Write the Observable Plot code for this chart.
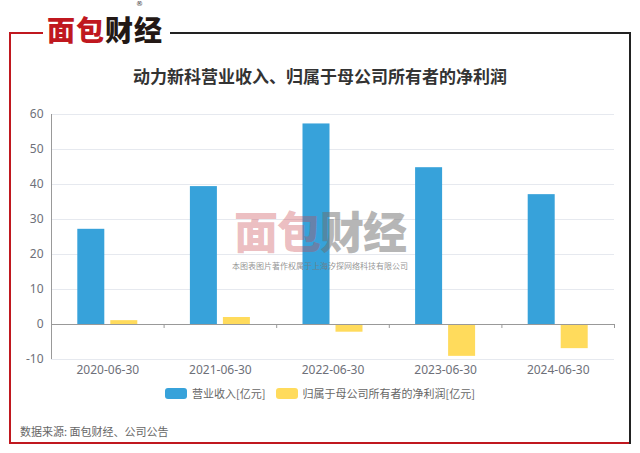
<!DOCTYPE html>
<html><head><meta charset="utf-8">
<script src="https://cdn.jsdelivr.net/npm/d3@7"></script>
<script src="https://cdn.jsdelivr.net/npm/@observablehq/plot@0.6"></script>
<style>
body{margin:0;background:#fff;}
#wrap{position:relative;width:640px;height:453px;overflow:hidden;font-family:"Noto Sans CJK SC","Noto Sans",sans-serif;background:#fff;}
.abs{position:absolute;}
#chart{position:absolute;left:0;top:100px;}
#legend{position:absolute;left:0;width:640px;top:385px;display:flex;justify-content:center;align-items:center;font-size:11px;color:#666;}
.sw{display:inline-block;width:22px;height:11px;border-radius:3px;margin-right:5px;}
.li{display:flex;align-items:center;margin:0 5px;}
</style></head><body>
<div id="wrap">
  <div class="abs" style="left:9px;top:32px;width:2px;height:412px;background:#c0181f;"></div>
  <div class="abs" style="left:9px;top:442px;width:622px;height:2px;background:#c0181f;"></div>
  <div class="abs" style="left:629px;top:32px;width:2px;height:412px;background:#222;"></div>
  <div class="abs" style="left:9px;top:32px;width:34px;height:2px;background:#c0181f;"></div>
  <div class="abs" style="left:170px;top:32px;width:461px;height:2px;background:#222;"></div>
  <div id="logo" class="abs" style="left:47px;top:15px;font-size:28px;font-weight:900;letter-spacing:1px;line-height:28px;height:28px;"></div>
  <div id="reg" class="abs" style="left:136px;top:1px;font-family:'DejaVu Sans',sans-serif;font-size:7px;line-height:7px;height:7px;color:#333;">®</div>
  <div id="title" class="abs" style="left:0;width:640px;top:63px;text-align:center;font-size:17px;font-weight:bold;color:#333;"></div>
  <div id="chart"></div>
  <div id="legend"></div>
  <div id="source" class="abs" style="left:20px;top:423px;font-size:11px;color:#666;"></div>
  <div id="wm" class="abs" style="left:230px;top:205px;width:180px;text-align:center;pointer-events:none;"></div>
</div>
<script>
const dates = ["2020-06-30", "2021-06-30", "2022-06-30", "2023-06-30", "2024-06-30"];
const revenue = [27.2, 39.4, 57.3, 44.8, 37.1];
const netProfit = [1.1, 2.0, -2.2, -9.1, -6.9];
const seriesNames = ["营业收入[亿元]", "归属于母公司所有者的净利润[亿元]"];
const yTicks = [-10, 0, 10, 20, 30, 40, 50, 60];
const colors = ["#37A2DA", "#FFDB5C"];
const titleText = "动力新科营业收入、归属于母公司所有者的净利润";
const sourceText = "数据来源: 面包财经、公司公告";
const logoRed = "面包";
const logoBlack = "财经";
const watermarkNote = "本图表图片著作权属于上海汐探网络科技有限公司";

document.getElementById("title").textContent = titleText;
document.getElementById("source").textContent = sourceText;
document.getElementById("logo").innerHTML =
  `<span style="color:#c0181f">${logoRed}</span><span style="color:#231815">${logoBlack}</span>`;
document.getElementById("wm").innerHTML =
  `<div style="font-size:44px;font-weight:900;line-height:50px;height:50px;letter-spacing:-1px;"><span style="color:rgba(200,70,80,0.36)">${logoRed}</span><span style="color:rgba(110,110,110,0.5)">${logoBlack}</span></div><div style="font-size:8px;line-height:10px;color:rgba(120,120,120,0.8);white-space:nowrap;margin-top:6px;">${watermarkNote}</div>`;

const legend = document.getElementById("legend");
seriesNames.forEach((n, i) => {
  const it = document.createElement("div");
  it.className = "li";
  it.innerHTML = `<span class="sw" style="background:${colors[i]}"></span><span>${n}</span>`;
  legend.appendChild(it);
});

const W = 640, H = 290, ML = 51, MR = 26, MT = 14, MB = 31;
const step = (W - ML - MR) / dates.length;
const barW = 27, gap = 6;
const rows = dates.map((d, i) => ({date: d, rev: revenue[i], np: netProfit[i]}));

const chart = Plot.plot({
  width: W, height: H,
  marginLeft: ML, marginRight: MR, marginTop: MT, marginBottom: MB,
  style: {fontFamily: "'Noto Sans', sans-serif", fontSize: "12px", background: "transparent"},
  x: {type: "band", domain: dates, padding: 0, round: false},
  y: {domain: [-10, 60], round: false},
  marks: [
    Plot.ruleY(yTicks.filter(t => t !== 0), {stroke: "#e6e9ef"}),
    Plot.barY(rows, {x: "date", y: "rev", fill: colors[0],
      insetLeft: step / 2 - gap / 2 - barW, insetRight: step / 2 + gap / 2}),
    Plot.barY(rows, {x: "date", y: "np", fill: colors[1],
      insetLeft: step / 2 + gap / 2, insetRight: step / 2 - gap / 2 - barW}),
    Plot.ruleY([0], {stroke: "#999"}),
    Plot.ruleX(dates, {y1: 0, y2: 0, dx: step / 2, insetBottom: -4, stroke: "#999"}),
    Plot.ruleX([dates[0]], {y1: -10, y2: 60, dx: -step / 2, stroke: "#999"}),
    Plot.axisY({ticks: yTicks, tickSize: 0, tickPadding: 8, tickFormat: d => String(d), color: "#6e7079", label: null}),
    Plot.axisX({tickSize: 0, tickPadding: 6, color: "#6e7079", label: null})
  ]
});
document.getElementById("chart").appendChild(chart);
</script>
</body></html>
